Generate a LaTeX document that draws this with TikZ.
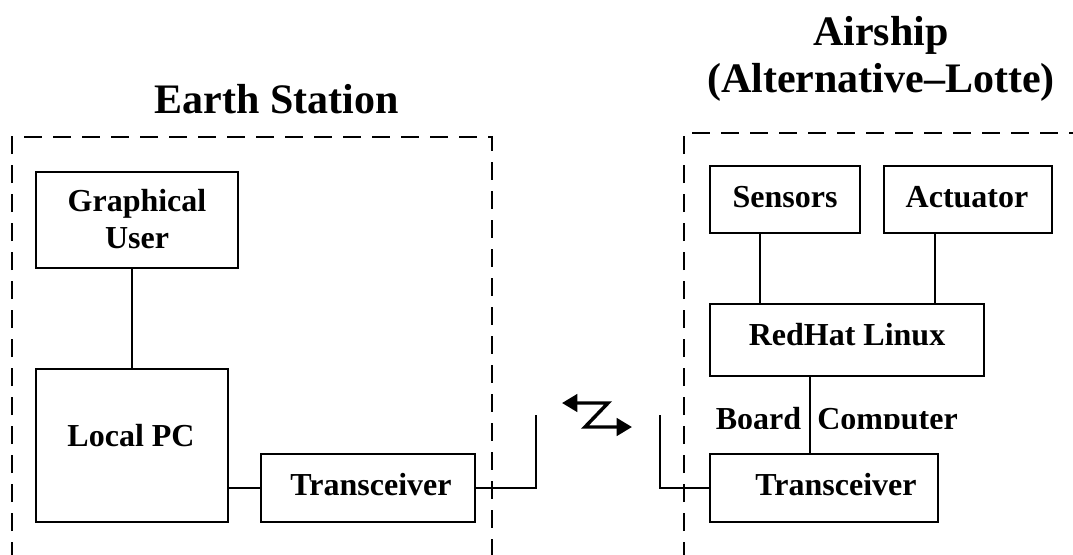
\documentclass[tikz,border=0pt]{standalone}
\usepackage{fontspec}
\setmainfont{Liberation Serif}
\usetikzlibrary{arrows.meta,calc}
\def\upx{0.75pt}
\begin{document}
\begin{tikzpicture}[x=0.75pt,y=-0.75pt,
  box/.style={draw,line width=1.5pt,inner sep=0pt},
  lbl/.style={font=\bfseries\fontsize{24}{27.4}\selectfont,inner sep=0pt,anchor=base},
  title/.style={font=\bfseries\fontsize{31.5}{35.25}\selectfont,inner sep=0pt,align=center},
  wire/.style={line width=1.5pt},
  frame/.style={line width=2pt,dash pattern=on 13.5pt off 8.25pt},
  zig/.style={line width=2.6pt,{Triangle[length=11.5pt,width=13pt]}-{Triangle[length=11.5pt,width=13pt]}}]
\useasboundingbox (0,0) rectangle (1073,554);

% group frames
\draw[frame] (12,560) -- (12,137) -- (492,137) -- (492,560);
\draw[frame] (684,560) -- (684,133) -- (1080,133);

% titles
\node[title,anchor=base] (earthT) at (276.5,113) {Earth Station};
\node[title] (shipT) at (881,58.5) {Airship\\(Alternative–Lotte)};

% earth station blocks
\node[box,minimum width=202*\upx,minimum height=96*\upx] (gui) at (137,219.7) {};
\node[lbl,anchor=center,align=center] (guiT) at (137,219) {Graphical\\User};
\node[box,minimum width=192*\upx,minimum height=153*\upx] (lpc) at (132,445.5) {};
\node[lbl] (lpcT) at (131,446.7) {Local PC};
\node[box,minimum width=214*\upx,minimum height=68*\upx] (tx1) at (368,488) {};
\node[lbl] (tx1T) at (371,495) {Transceiver};

% airship blocks
\node[box,minimum width=150*\upx,minimum height=67*\upx] (sens) at (785,199.5) {};
\node[lbl] (sensT) at (785,207) {Sensors};
\node[box,minimum width=168*\upx,minimum height=67*\upx] (act) at (968,199.5) {};
\node[lbl] (actT) at (967,207) {Actuator};
\node[box,minimum width=274*\upx,minimum height=72*\upx] (rh) at (847,340) {};
\node[lbl] (rhT) at (847,345) {RedHat Linux};
\node[box,minimum width=228*\upx,minimum height=68*\upx] (tx2) at (824,488) {};
\node[lbl] (tx2T) at (836,495) {Transceiver};

% caption between the Linux block and the transceiver, cut off at its foot
\begin{scope}
  \clip (700,395) rectangle (980,428);
  \node[lbl] (boardT) at (758.5,429) {Board};
  \node[lbl] (compT) at (887.5,429) {Computer};
\end{scope}

% antenna ends
\coordinate (antL) at (536,415);
\coordinate (antR) at (660,415);

% connectors
\draw[wire] (lpc.north) -- (lpc.north |- gui.south);
\draw[wire] (tx1.west) -- (tx1.west -| lpc.east);
\draw[wire] (tx1.east) -| (antL);
\draw[wire] (antR) |- (tx2.west);
\draw[wire] (sens.south) ++(-25,0) coordinate (s1) -- (s1 |- rh.north);
\draw[wire] (act.south) ++(-33,0) coordinate (a1) -- (a1 |- rh.north);
\draw[wire] (rh.south) ++(-37,0) coordinate (r1) -- (r1 |- tx2.north);

% radio link
\coordinate (zA) at (562,403);
\coordinate (zB) at (608,403);
\coordinate (zC) at (585,427);
\coordinate (zD) at (632,427);
\draw[zig] (zA) -- (zB) -- (zC) -- (zD);
\end{tikzpicture}
\end{document}
